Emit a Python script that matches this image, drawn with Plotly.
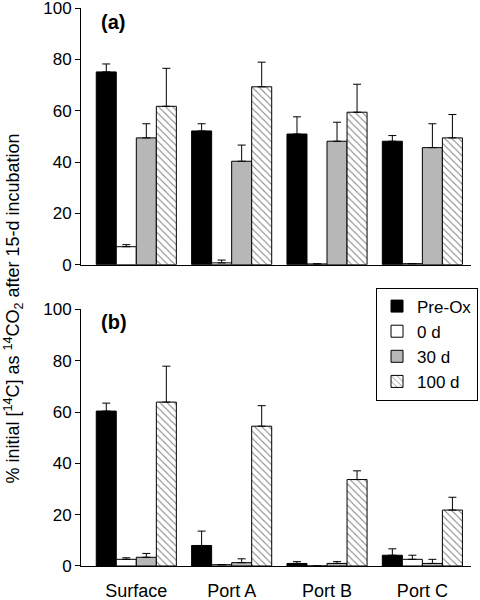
import plotly.graph_objects as go
from plotly.subplots import make_subplots

sites = ["Surface", "Port A", "Port B", "Port C"]
series = ["Pre-Ox", "0 d", "30 d", "100 d"]

# Panel (a)
a_vals = {
    "Pre-Ox": [75.1, 52.1, 50.9, 48.1],
    "0 d":    [7.0, 0.7, 0.3, 0.4],
    "30 d":   [49.4, 40.3, 48.1, 45.6],
    "100 d":  [61.7, 69.3, 59.4, 49.4],
}
a_err = {
    "Pre-Ox": [3.1, 2.8, 6.7, 2.2],
    "0 d":    [0.8, 1.1, 0.0, 0.0],
    "30 d":   [5.5, 6.3, 7.4, 9.3],
    "100 d":  [14.8, 9.6, 10.9, 9.1],
}
# Panel (b)
b_vals = {
    "Pre-Ox": [60.4, 8.0, 1.0, 4.2],
    "0 d":    [2.6, 0.5, 0.0, 2.6],
    "30 d":   [3.4, 1.3, 1.0, 1.0],
    "100 d":  [63.9, 54.5, 33.7, 21.8],
}
b_err = {
    "Pre-Ox": [3.1, 5.6, 0.7, 2.5],
    "0 d":    [0.6, 0.0, 0.0, 1.6],
    "30 d":   [1.5, 1.5, 0.7, 1.6],
    "100 d":  [14.0, 8.0, 3.4, 5.0],
}

styles = {
    "Pre-Ox": dict(color="black", pattern=dict(shape="")),
    "0 d": dict(color="white", pattern=dict(shape="")),
    "30 d": dict(color="#c8c8c8", pattern=dict(shape=".", fgcolor="#505050", bgcolor="#d4d4d4", size=2, solidity=0.5)),
    "100 d": dict(color="white", pattern=dict(shape="\\", fgcolor="black", bgcolor="white", size=5, solidity=0.2)),
}

FONT = "Liberation Sans, Arial"

fig = make_subplots(rows=2, cols=1, shared_xaxes=False, vertical_spacing=0.08)

for row, vals, errs in [(1, a_vals, a_err), (2, b_vals, b_err)]:
    for s in series:
        st = styles[s]
        fig.add_trace(go.Bar(
            x=sites, y=vals[s], name=s, showlegend=(row == 2),
            marker=dict(color=st["color"], pattern=st["pattern"],
                        line=dict(color="black", width=1)),
            error_y=dict(type="data", symmetric=False, array=errs[s],
                         arrayminus=[0] * 4, color="black", thickness=1, width=4),
        ), row=row, col=1)

axis_common = dict(showline=True, linecolor="black", linewidth=1, mirror=False,
                   showgrid=False, zeroline=False, automargin=False,
                   ticklabeloverflow="allow")
fig.update_xaxes(**axis_common, type="category", range=[-0.58, 3.51], ticks="")
fig.update_xaxes(showticklabels=False, row=1, col=1)
fig.update_xaxes(showticklabels=True, ticklabelstandoff=8,
                 tickfont=dict(family=FONT, size=18, color="black"), row=2, col=1)
fig.update_yaxes(**axis_common, range=[0, 100], dtick=20, ticks="outside", ticklen=5,
                 tickcolor="black",
                 tickfont=dict(family=FONT, size=17, color="black"))

fig.update_layout(
    width=480, height=600,
    margin=dict(l=81, r=9, t=8, b=34, autoexpand=False),
    paper_bgcolor="white", plot_bgcolor="white",
    barmode="group", bargap=0.16, bargroupgap=0,
    font=dict(family=FONT, size=17, color="black"),
    yaxis=dict(domain=[0.540, 1.0]),
    yaxis2=dict(domain=[0.0, 0.4597]),
    legend=dict(x=1.018, xanchor="right", y=0.499, yanchor="top",
                bordercolor="black", borderwidth=1, bgcolor="white",
                font=dict(size=17), tracegroupgap=0),
    annotations=[
        dict(text="<b>(a)</b>", xref="paper", yref="paper", x=0.046, y=0.998,
             xanchor="left", yanchor="top", showarrow=False, font=dict(size=20)),
        dict(text="<b>(b)</b>", xref="paper", yref="paper", x=0.046, y=0.46,
             xanchor="left", yanchor="top", showarrow=False, font=dict(size=20)),
        dict(text="% initial [<sup>14</sup>C] as <sup>14</sup>CO<sub>2</sub> after 15-d incubation",
             xref="paper", yref="paper", x=-0.174, y=0.4615, textangle=-90,
             xanchor="center", yanchor="middle", showarrow=False, font=dict(size=18)),
    ],
)

fig.write_html("out.html", config={"displayModeBar": False},
               post_script="document.body.style.margin='0';")
